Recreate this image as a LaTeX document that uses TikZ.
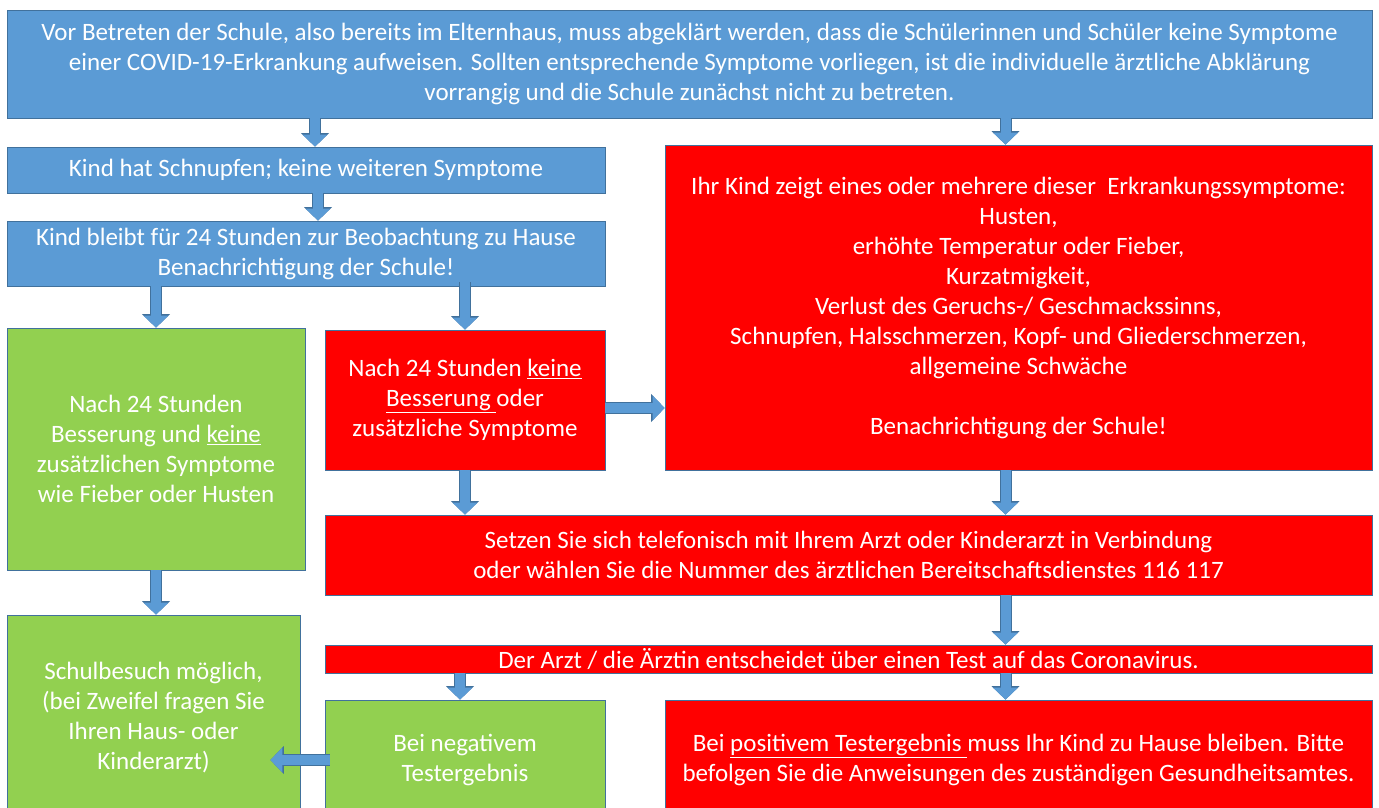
\documentclass[tikz,border=0pt]{standalone}
\usepackage{fontspec}
\setmainfont{Carlito}
\usepackage{xcolor}
\usetikzlibrary{positioning,arrows.meta,calc}

\definecolor{boxblue}{HTML}{5B9BD5}
\definecolor{boxedge}{HTML}{41719C}
\definecolor{boxred}{HTML}{FF0000}
\definecolor{boxgreen}{HTML}{92D050}

\begin{document}
\begin{tikzpicture}[
  x=1pt,y=-1pt,
  font=\fontsize{25}{30}\selectfont,
  box/.style  ={draw=boxedge,line width=0.8pt,align=center,text=white,inner sep=0pt},
  bluebox/.style ={box,fill=boxblue},
  redbox/.style  ={box,fill=boxred},
  greenbox/.style={box,fill=boxgreen},
  barrow/.style={draw=boxblue,line width=10pt,
    -{Triangle[width=25pt,length=12pt,line width=0pt]},
    preaction={draw=boxedge,line width=12pt,-{Triangle[width=28pt,length=13.5pt,line width=0pt]}}}
]
\useasboundingbox (0,0) rectangle (1379,807);
\clip (0,0) rectangle (1379,807);
% blue column on the left
\node[bluebox,minimum width=1365pt,minimum height=108pt] (start) at (689.5,64)
  {Vor Betreten der Schule, also bereits im Elternhaus, muss abgeklärt werden, dass die Schülerinnen und Schüler keine Symptome\\
   einer COVID-19-Erkrankung aufweisen. Sollten entsprechende Symptome vorliegen, ist die individuelle ärztliche Abklärung\\
   vorrangig und die Schule zunächst nicht zu betreten.};
\node[bluebox,minimum width=598pt,minimum height=46pt] (schnupfen) at (306,170)
  {Kind hat Schnupfen; keine weiteren Symptome};
\node[bluebox,minimum width=598pt,minimum height=65pt] (beobachtung) at (306,253.5)
  {Kind bleibt für 24 Stunden zur Beobachtung zu Hause\\Benachrichtigung der Schule!};
% after 24 hours
\node[greenbox,minimum width=298pt,minimum height=242pt] (besser) at (156,449)
  {Nach 24 Stunden\\Besserung und \underline{keine}\\zusätzlichen Symptome\\wie Fieber oder Husten};
\node[redbox,minimum width=280pt,minimum height=140pt] (nichtbesser) at (465,400)
  {Nach 24 Stunden \underline{keine}\\\underline{Besserung\ }oder\\zusätzliche Symptome};
\node[redbox,minimum width=707pt,minimum height=325pt] (symptome) at (1018.5,307.5)
  {Ihr Kind zeigt eines oder mehrere dieser\ \ Erkrankungssymptome:\\
   Husten,\\erhöhte Temperatur oder Fieber,\\Kurzatmigkeit,\\
   Verlust des Geruchs-/ Geschmackssinns,\\
   Schnupfen, Halsschmerzen, Kopf- und Gliederschmerzen,\\
   allgemeine Schwäche\\[30pt]Benachrichtigung der Schule!};
\node[redbox,minimum width=1047pt,minimum height=80pt] (arzt) at (848.5,555)
  {Setzen Sie sich telefonisch mit Ihrem Arzt oder Kinderarzt in Verbindung\\
   oder wählen Sie die Nummer des ärztlichen Bereitschaftsdienstes 116 117};
\node[redbox,minimum width=1047pt,minimum height=28pt] (test) at (848.5,659)
  {Der Arzt / die Ärztin entscheidet über einen Test auf das Coronavirus.};
% results
\node[greenbox,minimum width=293pt,minimum height=205pt] (schulbesuch) at (153.5,717.5)
  {Schulbesuch möglich,\\(bei Zweifel fragen Sie\\Ihren Haus- oder\\Kinderarzt)};
\node[greenbox,minimum width=280pt,minimum height=120pt] (negativ) at (465,760)
  {Bei negativem\\Testergebnis};
\node[redbox,minimum width=707pt,minimum height=120pt] (positiv) at (1018.5,760)
  {Bei \underline{positivem Testergebnis\ }muss Ihr Kind zu Hause bleiben. Bitte\\
   befolgen Sie die Anweisungen des zuständigen Gesundheitsamtes.};
% arrows
\draw[barrow] ([xshift=9pt]schnupfen.north |- start.south) -- ([xshift=9pt]schnupfen.north);
\draw[barrow] ([xshift=-13pt]symptome.north |- start.south) -- ([xshift=-13pt]symptome.north);
\draw[barrow] ([xshift=12pt]schnupfen.south) -- ([xshift=12pt]beobachtung.north);
\draw[barrow] (besser.north |- beobachtung.south) -- (besser.north);
\draw[barrow] ([yshift=4pt]nichtbesser.north |- beobachtung.south) -- (nichtbesser.north);
\draw[barrow] ([yshift=-8pt]nichtbesser.east) -- ([yshift=-8pt]nichtbesser.east -| symptome.west);
\draw[barrow] (nichtbesser.south) -- (nichtbesser.south |- arzt.north);
\draw[barrow] ([xshift=-13pt]symptome.south) -- ([xshift=-13pt]symptome.south |- arzt.north);
\draw[barrow] ([xshift=-13pt]positiv.north |- arzt.south) -- ([xshift=-13pt]positiv.north |- test.north);
\draw[barrow] (besser.south) -- (besser.south |- schulbesuch.north);
\draw[barrow] ([xshift=-5pt]negativ.north |- test.south) -- ([xshift=-5pt]negativ.north);
\draw[barrow] ([xshift=-13pt]positiv.north |- test.south) -- ([xshift=-13pt]positiv.north);
\draw[barrow] ([xshift=5pt]negativ.west) -- ([xshift=-30pt]negativ.west -| schulbesuch.east);
\end{tikzpicture}
\end{document}
